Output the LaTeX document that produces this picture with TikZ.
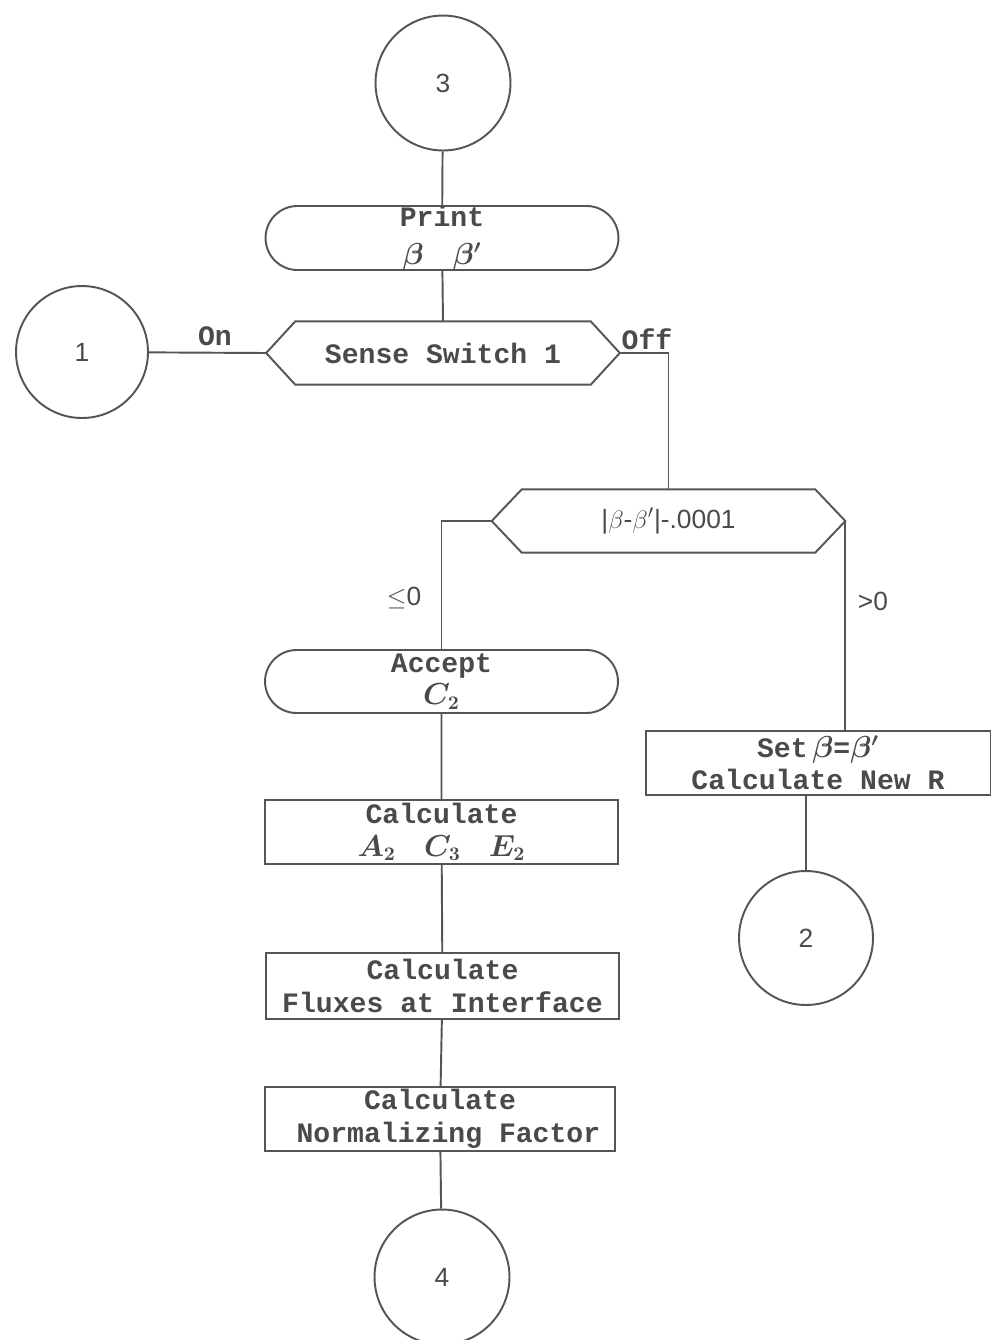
\documentclass[tikz,border=0pt]{standalone}
\usepackage{fontspec}
\setmonofont{Liberation Mono}
\newfontfamily\gothic{Liberation Sans}
\usetikzlibrary{shapes.misc}
\definecolor{ink}{HTML}{555555}
\definecolor{txt}{HTML}{4A4A4A}
\begin{document}
\begin{tikzpicture}[x=0.02cm,y=-0.02cm,
  every node/.style={text=txt, font=\ttfamily\bfseries\boldmath\fontsize{16}{18.5}\selectfont},
  line/.style={draw=ink, line width=1.1pt},
  conn/.style={circle, draw=ink, line width=1.1pt, minimum size=2.7cm, inner sep=0pt, font=\gothic\fontsize{15}{16}\selectfont},
  term/.style={rounded rectangle, draw=ink, line width=1.1pt, minimum width=7.06cm, minimum height=1.26cm, align=center, inner sep=0pt},
  proc/.style={rectangle, draw=ink, line width=1.1pt, minimum width=7.06cm, minimum height=1.28cm, align=center, inner sep=0pt},
  hexa/.style={rectangle, minimum width=7.06cm, minimum height=1.25cm, inner sep=0pt, align=center},
  lbl/.style={font=\gothic\fontsize{15}{16}\selectfont}]
\fill[white] (0,0) rectangle (991,1340);
\useasboundingbox (0,0) rectangle (991,1340);

\node[conn] (c3) at (443,83) {3};
\node[term] (print) at (442,238) {Print\\[3pt]$\beta\;\;\;\beta'$};
\node[hexa] (sense) at (443,353) {Sense Switch 1};
\node[conn, minimum size=2.64cm] (c1) at (82,352) {1};
\node[hexa, font=\gothic\fontsize{15}{16}\selectfont] (dec) at (668.5,521) {|$\beta$-$\beta'$|-.0001};
\node[term] (accept) at (441.5,681.5) {Accept\\$C_2$};
\node[proc] (calc1) at (441.5,832) {Calculate\\$A_2$\quad$C_3$\quad$E_2$};
\node[proc, minimum height=1.32cm] (calc2) at (442.5,986) {Calculate\\Fluxes at Interface};
\node[proc, minimum width=7.0cm] (calc3) at (440,1119) {Calculate\\\ Normalizing Factor};
\node[conn] (c4) at (442,1277) {4};
\node[proc, minimum width=6.9cm] (setb) at (818,763) {Set\,$\beta$=$\beta'$\\Calculate New R};
\node[conn, minimum size=2.68cm] (c2) at (806,938) {2};

% hexagons
\draw[line] (sense.west) -- ([xshift=0.58cm]sense.north west) -- ([xshift=-0.58cm]sense.north east) -- (sense.east) -- ([xshift=-0.58cm]sense.south east) -- ([xshift=0.58cm]sense.south west) -- cycle;
\draw[line] (dec.west) -- ([xshift=0.6cm]dec.north west) -- ([xshift=-0.6cm]dec.north east) -- (dec.east) -- ([xshift=-0.6cm]dec.south east) -- ([xshift=0.6cm]dec.south west) -- cycle;

% connectors
\draw[line] (c3) -- (print);
\draw[line] (print) -- (sense.north);
\draw[line] (c1) -- (sense.west);
\draw[line] (sense.east) -| (dec.north);
\draw[line] (dec.west) -| (accept.north);
\draw[line] (dec.east) -- (dec.east |- setb.north);
\draw[line] (accept) -- (calc1);
\draw[line] (calc1) -- (calc2);
\draw[line] (calc2) -- (calc3);
\draw[line] (calc3) -- (c4);
\draw[line] (c2) -- (c2 |- setb.south);

% labels
\node (lon) at (215,336) {On};
\node (loff) at (647,339) {Off};
\node[lbl] (lle) at (404,598) {$\leq$0};
\node[lbl] (lgt) at (873,601) {>0};
\end{tikzpicture}
\end{document}
